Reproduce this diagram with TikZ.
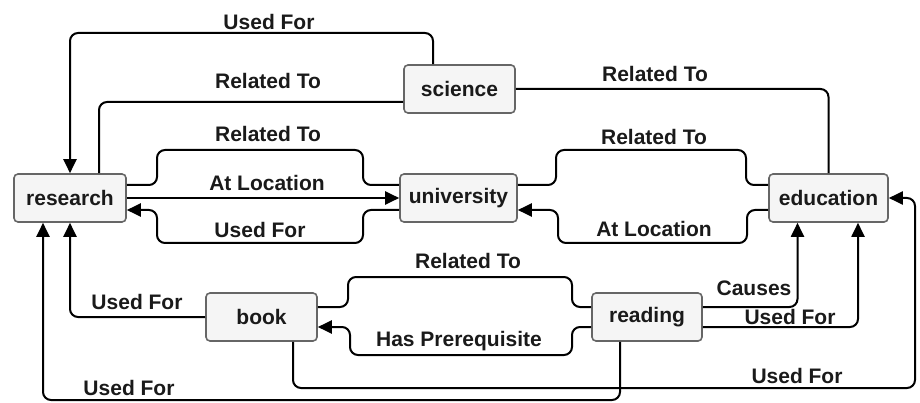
\documentclass[tikz,border=0pt]{standalone}
\usepackage{fontspec}
\setmainfont{Liberation Sans}
\usetikzlibrary{arrows.meta}
\definecolor{boxfill}{HTML}{F5F5F5}
\definecolor{boxline}{HTML}{666666}
\definecolor{txt}{HTML}{1A1A1A}
\begin{document}
\begin{tikzpicture}[x=1pt,y=-1pt,
  concept/.style={draw=boxline,fill=boxfill,line width=1.6pt,rounded corners=4pt,
    inner sep=0pt,minimum height=48pt,text=txt,font=\fontsize{21}{24}\selectfont\bfseries},
  edge/.style={draw=black,line width=2pt,rounded corners=8pt},
  arr/.style={-{Triangle[length=14pt,width=13pt]}},
  lbl/.style={text=txt,inner sep=0pt,font=\fontsize{21}{24}\selectfont\bfseries}]
\useasboundingbox (0,0) rectangle (920,403);

% concepts
\node[concept,minimum width=112pt] (research)   at (70,198)    {research};
\node[concept,minimum width=111pt] (science)    at (459.5,89)  {science};
\node[concept,minimum width=117pt] (university) at (458.5,198) {university};
\node[concept,minimum width=119pt] (education)  at (828.5,198) {education};
\node[concept,minimum width=111pt] (book)       at (261.5,317) {book};
\node[concept,minimum width=110pt] (reading)    at (647,317)   {reading};

% science relations
\draw[edge,arr] ([xshift=-26.5pt]science.north) -- (433,33) -- (70,33) -- (research.north);
\draw[edge] ([yshift=-13pt]science.west) -| ([xshift=29pt]research.north);
\draw[edge] (science.east) -| (education.north);

% research <-> university
\draw[edge] ([yshift=13pt]research.east) -- (157,185) -- (157,150) -- (363,150) -- (363,185) -- ([yshift=13pt]university.west);
\draw[edge,arr] (research.east) -- (university.west);
\draw[edge,arr] ([yshift=-12pt]university.west) -- (363,210) -- (363,243) -- (157,243) -- (157,210) -- ([yshift=-12pt]research.east);

% university <-> education
\draw[edge] ([yshift=13pt]university.east) -- (556,185) -- (556,150) -- (746,150) -- (746,185) -- ([yshift=13pt]education.west);
\draw[edge,arr] ([yshift=-12pt]education.west) -- (747,210) -- (747,243) -- (558,243) -- (558,210) -- ([yshift=-12pt]university.east);

% reading <-> book
\draw[edge] ([yshift=10pt]reading.west) -- (572,307) -- (572,277) -- (348,277) -- (348,307) -- ([yshift=10pt]book.east);
\draw[edge,arr] ([yshift=-10pt]reading.west) -- (572,327) -- (572,355) -- (350,355) -- (350,327) -- ([yshift=-10pt]book.east);

% uses of book and reading
\draw[edge,arr] (book.west) -| (research.south);
\draw[edge,arr] ([xshift=-27pt]reading.south) -- (620,400) -- (43,400) -- ([xshift=-27pt]research.south);
\draw[edge,arr] ([xshift=31.5pt]book.south) -- (293,388) -- (915,388) -- (915,198) -- (education.east);
\draw[edge,arr] ([yshift=10pt]reading.east) -| ([xshift=-31pt]education.south);
\draw[edge,arr] ([yshift=-10pt]reading.east) -| ([xshift=29.5pt]education.south);

% edge labels
\node[lbl] (l1)  at (269,22)  {Used For};
\node[lbl] (l2)  at (268,81)  {Related To};
\node[lbl] (l3)  at (655,74)  {Related To};
\node[lbl] (l4)  at (268,134) {Related To};
\node[lbl] (l5)  at (267,183) {At Location};
\node[lbl] (l6)  at (260,230) {Used For};
\node[lbl] (l7)  at (654,137) {Related To};
\node[lbl] (l8)  at (654,229) {At Location};
\node[lbl] (l9)  at (468,261) {Related To};
\node[lbl] (l10) at (459,341) {Has Prerequisite};
\node[lbl] (l11) at (137,302) {Used For};
\node[lbl] (l12) at (129,388) {Used For};
\node[lbl] (l13) at (797,376) {Used For};
\node[lbl] (l14) at (754,288) {Causes};
\node[lbl] (l15) at (790,317) {Used For};
\end{tikzpicture}
\end{document}
